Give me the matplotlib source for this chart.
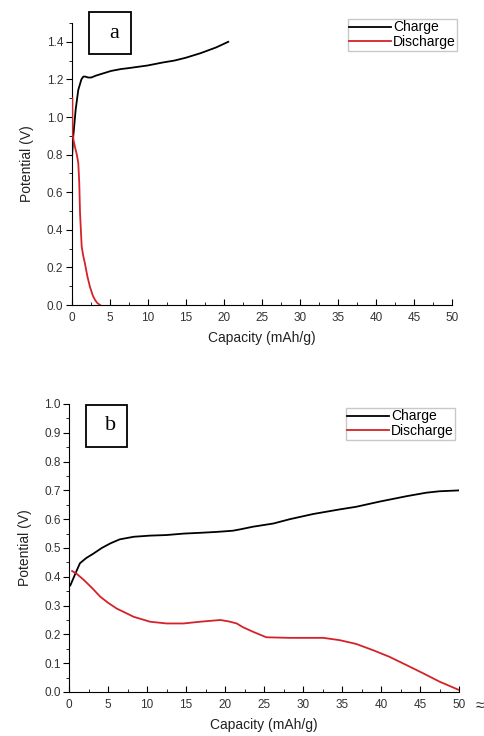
import matplotlib.pyplot as plt
from matplotlib.patches import Rectangle
from matplotlib.ticker import MultipleLocator, FormatStrFormatter

plt.rcParams['font.family'] = ['Liberation Sans', 'DejaVu Sans']

# panel a
a_charge_x = [0.0, 0.03, 0.1, 0.24, 0.55, 0.89, 1.3, 1.55, 1.8, 2.2, 2.6, 3.2, 4.0, 5.2, 6.5, 7.5, 10.0, 12.0, 13.5, 15.0, 17.0, 19.0, 20.6]
a_charge_y = [0.55, 0.72, 0.81, 0.90, 1.04, 1.144, 1.20, 1.215, 1.215, 1.21, 1.21, 1.22, 1.23, 1.245, 1.255, 1.26, 1.274, 1.29, 1.30, 1.315, 1.34, 1.37, 1.40]
a_dis_x = [0.12, 0.12, 0.25, 0.46, 0.7, 0.89, 1.02, 1.12, 1.34, 1.55, 1.77, 2.1, 2.43, 2.8, 3.09, 3.4, 3.75]
a_dis_y = [1.10, 0.915, 0.88, 0.84, 0.80, 0.756, 0.65, 0.49, 0.31, 0.26, 0.22, 0.15, 0.096, 0.05, 0.027, 0.01, 0.0]

# panel b
b_charge_x = [0.17, 0.8, 1.4, 2.2, 3.1, 4.2, 5.3, 6.5, 8.3, 10.4, 12.5, 14.7, 17.0, 19.0, 21.0, 22.0, 23.6, 26.2, 28.3, 31.3, 34.7, 36.8, 39.8, 43.3, 45.8, 47.5, 50.0]
b_charge_y = [0.37, 0.41, 0.447, 0.465, 0.48, 0.50, 0.516, 0.53, 0.539, 0.543, 0.545, 0.55, 0.553, 0.556, 0.56, 0.565, 0.574, 0.585, 0.60, 0.618, 0.634, 0.643, 0.661, 0.68, 0.692, 0.697, 0.70]
b_dis_x = [0.4, 1.0, 1.9, 3.0, 4.0, 5.0, 6.1, 8.3, 10.4, 12.5, 14.7, 16.8, 19.4, 20.5, 21.5, 22.3, 23.6, 25.3, 28.3, 32.6, 34.7, 36.8, 39.0, 41.1, 43.3, 45.4, 47.5, 50.0]
b_dis_y = [0.42, 0.41, 0.389, 0.36, 0.331, 0.31, 0.29, 0.261, 0.244, 0.238, 0.238, 0.244, 0.25, 0.245, 0.238, 0.225, 0.209, 0.19, 0.188, 0.188, 0.18, 0.167, 0.145, 0.122, 0.093, 0.065, 0.036, 0.007]

W, H = 484, 736
fig = plt.figure(figsize=(W / 100, H / 100), dpi=100)
ax1 = fig.add_axes([71.5 / W, 1 - 305 / H, (452 - 71.5) / W, (305 - 23) / H])
ax2 = fig.add_axes([69 / W, 1 - 692 / H, (459 - 69) / W, (692 - 404) / H])

red = '#d42228'


def style(ax, ymax, ymaj, ymin, leg_anchor):
    ax.set_xlim(0, 50)
    ax.set_ylim(0, ymax)
    ax.spines['top'].set_visible(False)
    ax.spines['right'].set_visible(False)
    ax.xaxis.set_major_locator(MultipleLocator(5))
    ax.xaxis.set_minor_locator(MultipleLocator(2.5))
    ax.yaxis.set_major_locator(MultipleLocator(ymaj))
    ax.yaxis.set_minor_locator(MultipleLocator(ymin))
    ax.yaxis.set_major_formatter(FormatStrFormatter('%.1f'))
    ax.tick_params(axis='x', which='both', direction='in', labelsize=8.5, labelcolor='#333333', pad=5)
    ax.tick_params(axis='y', which='both', direction='out', labelsize=8.5, labelcolor='#333333', pad=2)
    ax.tick_params(which='major', length=4)
    ax.tick_params(which='minor', length=2.5)
    ax.set_xlabel('Capacity (mAh/g)', fontsize=10, color='#222222', labelpad=5)
    ax.set_ylabel('Potential (V)', fontsize=10, color='#222222', labelpad=9)
    ax.legend(loc='upper right', bbox_to_anchor=leg_anchor, fontsize=10, frameon=True, fancybox=False,
              edgecolor='#bbbbbb', handlelength=3.0, handletextpad=0.15, borderpad=0.1,
              labelspacing=0.05, borderaxespad=0.0)


ax1.plot(a_charge_x, a_charge_y, color='black', lw=1.3, label='Charge', zorder=3)
ax1.plot(a_dis_x, a_dis_y, color=red, lw=1.3, label='Discharge', zorder=3)
style(ax1, 1.5, 0.2, 0.1, (1.013, 1.014))

ax2.plot(b_charge_x, b_charge_y, color='black', lw=1.3, label='Charge', zorder=3)
ax2.plot(b_dis_x, b_dis_y, color=red, lw=1.3, label='Discharge', zorder=3)
style(ax2, 1.0, 0.1, 0.05, (0.99, 0.986))

# panel letters in boxes
for x0, y0, x1, y1, letter in [(89, 12, 131, 54, 'a'), (86, 405, 127, 447, 'b')]:
    fig.patches.append(Rectangle((x0 / W, 1 - y1 / H), (x1 - x0) / W, (y1 - y0) / H,
                                 transform=fig.transFigure, fc='white', ec='black', lw=1.3))
    fig.text((x0 + x1) / 2 / W + 4 / W, 1 - (y0 + y1) / 2 / H, letter, fontsize=16,
             family='Liberation Serif', ha='center', va='center')

fig.text(480 / W, 1 - 706 / H, '\u2248', fontsize=11, color='#333333', ha='center', va='center')

fig.savefig('out.png', dpi=100)
